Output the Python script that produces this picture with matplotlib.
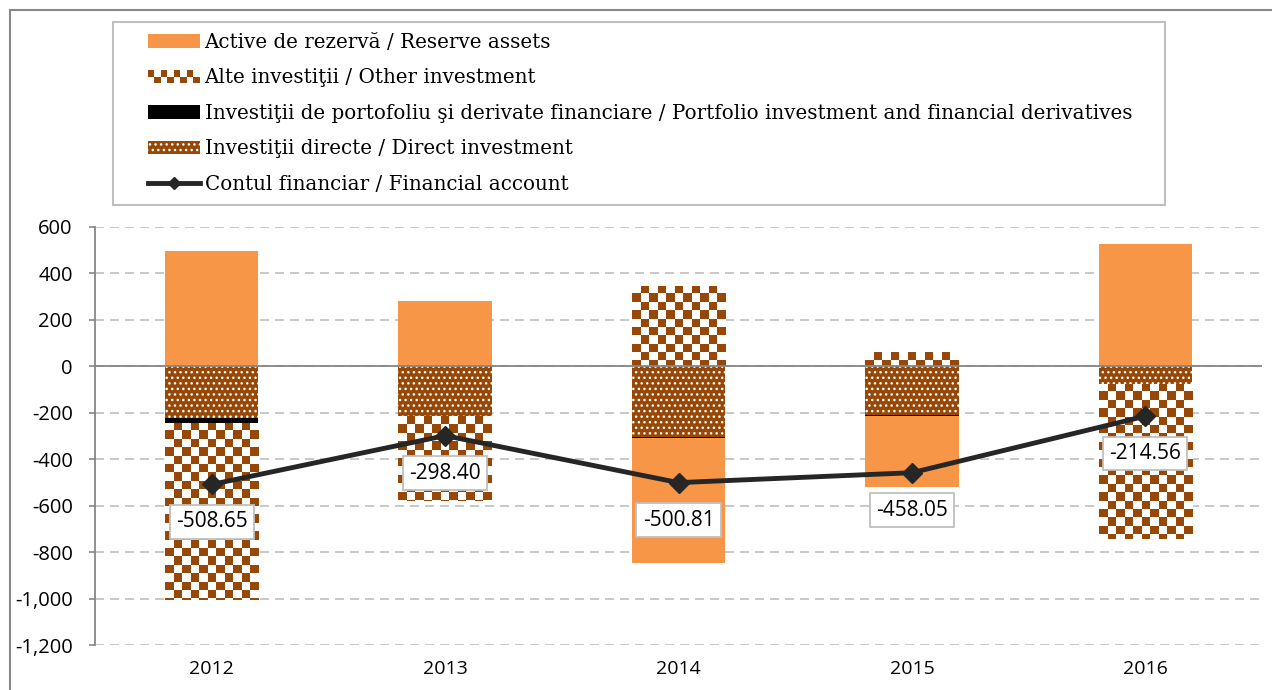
import numpy as np
import matplotlib
matplotlib.use('Agg')
import matplotlib.pyplot as plt
from matplotlib.patches import Rectangle, Patch
from matplotlib.lines import Line2D
from matplotlib.colors import ListedColormap
from matplotlib.legend_handler import HandlerBase
from matplotlib.ticker import FuncFormatter, MultipleLocator

# %% data (EUR million)
years = ['2012', '2013', '2014', '2015', '2016']
direct = [-222, -215, -304, -210, -74]
portfolio = [-22, 0, -4, -3, 0]
other = [-763, -364, 348, 62, -668]
reserve = [498, 281, -541, -307, 528]
financial_account = [-508.65, -298.40, -500.81, -458.05, -214.56]

labels = ['Active de rezervă / Reserve assets',
          'Alte investiţii / Other investment',
          'Investiţii de portofoliu şi derivate financiare / Portfolio investment and financial derivatives',
          'Investiţii directe / Direct investment',
          'Contul financiar / Financial account']

orange = '#F79646'
brown = '#974706'
line_col = '#262626'
grid_col = '#BFBFBF'
axis_col = '#868686'

plt.rcParams['hatch.linewidth'] = 1.0
plt.rcParams['lines.scale_dashes'] = False

W, H = 1272, 690
fig = plt.figure(figsize=(W / 100, H / 100), dpi=100)
ax = fig.add_axes([95 / W, 1 - 645 / H, (1262 - 95) / W, (645 - 227) / H])

# %% stacked bars, positives up from 0, negatives down from 0
x = np.arange(len(years))
w = 0.4
pos_base = np.zeros(len(years))
neg_base = np.zeros(len(years))
series = [
    (direct, dict(facecolor=brown, edgecolor='white', hatch='...', linewidth=0)),
    (portfolio, dict(facecolor='black', linewidth=0)),
    (other, dict(facecolor='white', linewidth=0)),
    (reserve, dict(facecolor=orange, linewidth=0)),
]
bar_sets = []
for vals, kw in series:
    vals = np.array(vals, dtype=float)
    bottom = np.where(vals >= 0, pos_base, neg_base)
    bar_sets.append(ax.bar(x, vals, w, bottom=bottom, zorder=2, **kw))
    pos_base = pos_base + np.clip(vals, 0, None)
    neg_base = neg_base + np.clip(vals, None, 0)

# checkerboard fill for "other investment" (no such hatch in matplotlib)
checker = ListedColormap(['white', brown])
cell_h = 36
for r in bar_sets[2]:
    x0, bw = r.get_x(), r.get_width()
    ylo = min(r.get_y(), r.get_y() + r.get_height())
    yhi = max(r.get_y(), r.get_y() + r.get_height())
    nx = 11
    ny = int(np.ceil((yhi - ylo) / cell_h)) + 1
    board = np.add.outer(np.arange(ny), np.arange(nx)) % 2
    im = ax.imshow(board, cmap=checker, extent=(x0, x0 + bw, yhi - ny * cell_h, yhi),
                   origin='upper', aspect='auto', interpolation='nearest', zorder=2.1)
    im.set_clip_path(r)

ax.axhline(0, color=axis_col, lw=1.3, zorder=2.5)

# %% financial account line
ax.plot(x, financial_account, color=line_col, lw=3.5, marker='D', ms=10, zorder=4)
for xi, v in zip(x, financial_account):
    ax.annotate(f'{v:.2f}', (xi, v), xytext=(0, -27), textcoords='offset points',
                ha='center', va='center', fontsize=15, family='Open Sans',
                bbox=dict(boxstyle='square,pad=0.3', fc='white', ec=grid_col, lw=1.3),
                zorder=5)

# %% axes
ax.set_xlim(-0.5, 4.5)
ax.set_ylim(-1200, 600)
ax.yaxis.set_major_locator(MultipleLocator(200))
ax.yaxis.set_major_formatter(FuncFormatter(lambda v, p: f'{v:,.0f}'))
ax.set_xticks(x)
ax.set_xticklabels(years)
ax.set_axisbelow(True)
ax.yaxis.grid(True, color=grid_col, lw=1.2, dashes=(6.5, 4.3))
for s in ['top', 'right', 'bottom']:
    ax.spines[s].set_visible(False)
ax.spines['left'].set_color(axis_col)
ax.spines['left'].set_linewidth(1.3)
ax.tick_params(axis='y', length=4, color=axis_col, width=1.2, labelsize=14.5, pad=12)
ax.tick_params(axis='x', length=0, labelsize=14, pad=11)
for t in ax.get_xticklabels() + ax.get_yticklabels():
    t.set_family('Open Sans')

# %% legend
class CheckerHandler(HandlerBase):
    def create_artists(self, legend, orig_handle, xdescent, ydescent, width, height, fontsize, trans):
        n = 8
        cw = width / n
        ch = height / 2
        arts = []
        for i in range(n):
            yb = -ydescent + (ch if i % 2 == 0 else 0)
            arts.append(Rectangle((-xdescent + i * cw, yb), cw, ch, fc=brown, ec='none', transform=trans))
        return arts

other_handle = Patch(facecolor=brown)
handles = [
    Patch(facecolor=orange, linewidth=0),
    other_handle,
    Patch(facecolor='black', linewidth=0),
    Patch(facecolor=brown, edgecolor='white', hatch='...', linewidth=0),
    Line2D([], [], color=line_col, lw=3.5, marker='D', ms=6),
]
fig.add_artist(Rectangle((113 / W, 1 - 205 / H), (1165 - 113) / W, 183 / H, transform=fig.transFigure,
                         fc='white', ec=grid_col, lw=1.5))
leg = fig.legend(handles, labels, handler_map={other_handle: CheckerHandler()},
                 loc='upper left', bbox_to_anchor=(148 / W, 1 - 33 / H), borderaxespad=0,
                 borderpad=0, frameon=False, handlelength=2.6, handleheight=0.65,
                 handletextpad=0.25, labelspacing=0.83,
                 prop={'family': 'DejaVu Serif', 'size': 14.3})

# outer chart border
fig.add_artist(Rectangle((10 / W, -0.05), 1.1, 1 - 10 / H + 0.05, transform=fig.transFigure,
                         fill=False, ec='#888888', lw=1.5))

fig.savefig('out.png', dpi=100)
